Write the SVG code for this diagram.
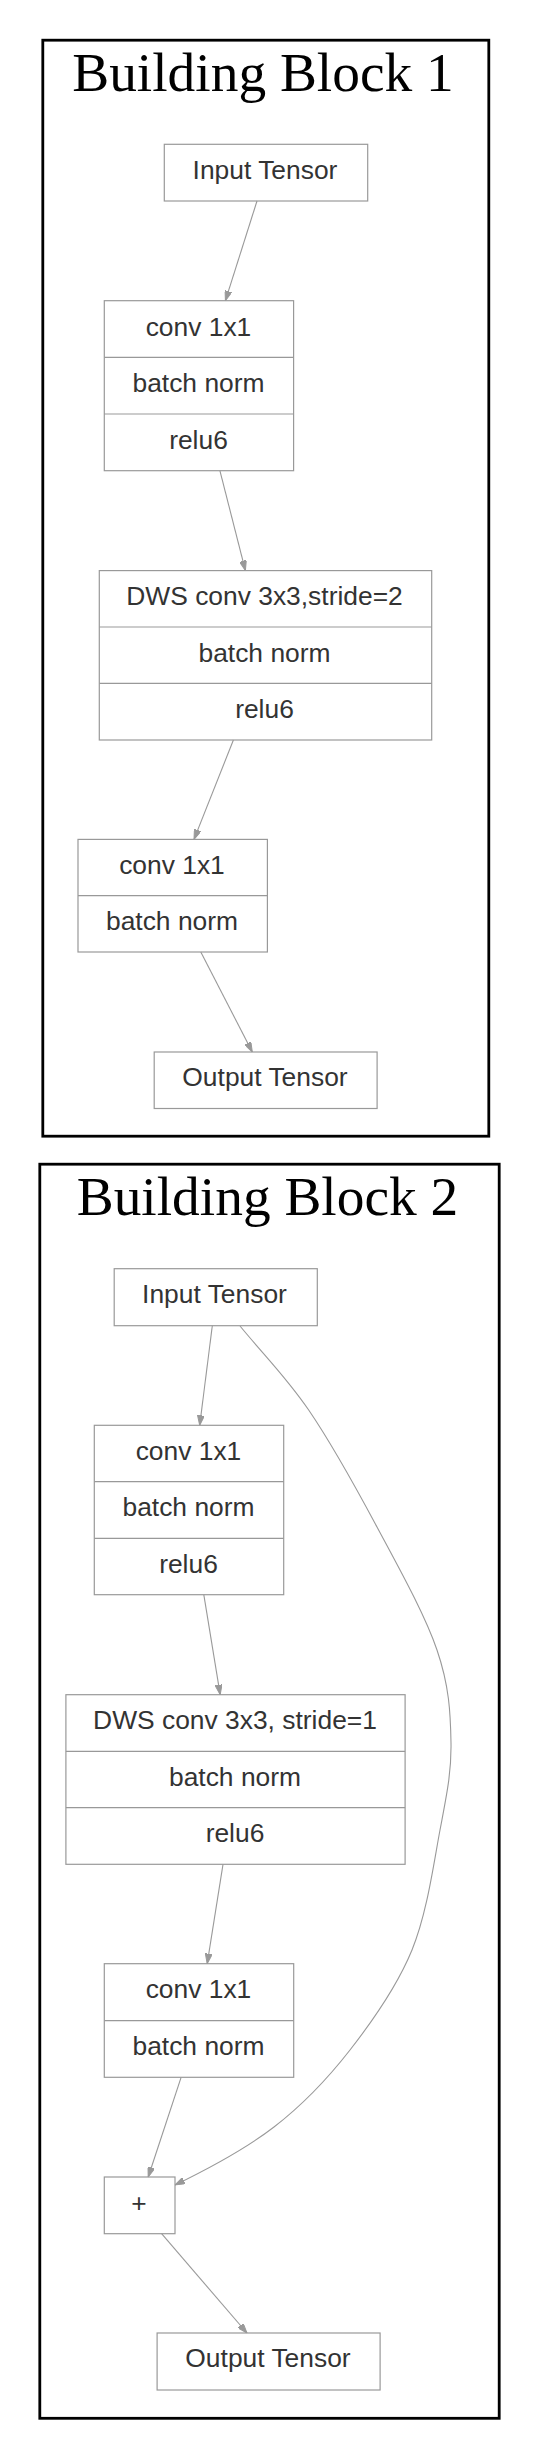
<svg xmlns="http://www.w3.org/2000/svg" width="539" height="2458" viewBox="0 0 539 2458">
<defs>
<marker id="arr" viewBox="0 0 10 7" markerWidth="10" markerHeight="7" refX="10" refY="3.5" markerUnits="userSpaceOnUse" orient="auto">
<path d="M0,0 L10,3.5 L0,7 z" fill="#999" stroke="#999" stroke-width="1"/>
</marker>
</defs>
<style>
.frame{fill:#fff;stroke:#000;stroke-width:2.8}
.title{font-family:"Liberation Serif","Times New Roman",serif;font-size:55.4px;fill:#000;text-anchor:middle}
.box{fill:#fff;stroke:#999;stroke-width:1.2}
.div{stroke:#999;stroke-width:1.2}
.lbl{font-family:"Liberation Sans",Arial,sans-serif;font-size:26.4px;fill:#333;text-anchor:middle}
.edge{fill:none;stroke:#999;stroke-width:1.1;marker-end:url(#arr)}
</style>
<rect width="539" height="2458" fill="#fff"/>
<g id="cluster1">
<rect class="frame" x="42.8" y="40.2" width="446" height="1096"/>
<text class="title" x="263" y="90.7">Building Block 1</text>
</g>
<g id="cluster2">
<rect class="frame" x="39.8" y="1164.2" width="459.4" height="1254.1"/>
<text class="title" x="267.5" y="1215">Building Block 2</text>
</g>
<g id="b1_input">
<rect class="box" x="164.3" y="144.3" width="203.4" height="56.7"/>
<text class="lbl" x="265" y="179">Input Tensor</text>
</g>
<g id="b1_conv1">
<rect class="box" x="104.3" y="300.7" width="189.3" height="170"/>
<line class="div" x1="104.3" y1="357.3" x2="293.6" y2="357.3"/>
<line class="div" x1="104.3" y1="414" x2="293.6" y2="414"/>
<text class="lbl" x="198.5" y="335.6">conv 1x1</text>
<text class="lbl" x="198.5" y="392.2">batch norm</text>
<text class="lbl" x="198.5" y="448.8">relu6</text>
</g>
<g id="b1_dws">
<rect class="box" x="99.3" y="570.6" width="332.4" height="169.4"/>
<line class="div" x1="99.3" y1="627" x2="431.7" y2="627"/>
<line class="div" x1="99.3" y1="683.4" x2="431.7" y2="683.4"/>
<text class="lbl" x="264.5" y="605">DWS conv 3x3,stride=2</text>
<text class="lbl" x="264.5" y="661.5">batch norm</text>
<text class="lbl" x="264.5" y="717.8">relu6</text>
</g>
<g id="b1_conv2">
<rect class="box" x="78" y="839.4" width="189.4" height="112.6"/>
<line class="div" x1="78" y1="895.7" x2="267.4" y2="895.7"/>
<text class="lbl" x="172" y="874.1">conv 1x1</text>
<text class="lbl" x="172" y="930.4">batch norm</text>
</g>
<g id="b1_output">
<rect class="box" x="154.2" y="1052" width="222.9" height="56.5"/>
<text class="lbl" x="265" y="1086.3">Output Tensor</text>
</g>
<g id="b2_input">
<rect class="box" x="114.2" y="1268.7" width="203.1" height="57"/>
<text class="lbl" x="214.5" y="1303.2">Input Tensor</text>
</g>
<g id="b2_conv1">
<rect class="box" x="94.3" y="1425.3" width="189.4" height="169.4"/>
<line class="div" x1="94.3" y1="1481.7" x2="283.7" y2="1481.7"/>
<line class="div" x1="94.3" y1="1538.3" x2="283.7" y2="1538.3"/>
<text class="lbl" x="188.5" y="1459.8">conv 1x1</text>
<text class="lbl" x="188.5" y="1516.2">batch norm</text>
<text class="lbl" x="188.5" y="1572.8">relu6</text>
</g>
<g id="b2_dws">
<rect class="box" x="65.9" y="1694.7" width="339.2" height="169.6"/>
<line class="div" x1="65.9" y1="1751.3" x2="405.1" y2="1751.3"/>
<line class="div" x1="65.9" y1="1807.7" x2="405.1" y2="1807.7"/>
<text class="lbl" x="235" y="1729">DWS conv 3x3, stride=1</text>
<text class="lbl" x="235" y="1785.6">batch norm</text>
<text class="lbl" x="235" y="1842.1">relu6</text>
</g>
<g id="b2_conv2">
<rect class="box" x="104.3" y="1963.7" width="189.4" height="113.6"/>
<line class="div" x1="104.3" y1="2020.7" x2="293.7" y2="2020.7"/>
<text class="lbl" x="198.5" y="1998.2">conv 1x1</text>
<text class="lbl" x="198.5" y="2055.2">batch norm</text>
</g>
<g id="b2_add">
<rect class="box" x="104.3" y="2177" width="70.7" height="56.7"/>
<text class="lbl" x="139" y="2211.5">+</text>
</g>
<g id="b2_output">
<rect class="box" x="157.1" y="2333" width="223" height="57"/>
<text class="lbl" x="268" y="2367.2">Output Tensor</text>
</g>
<g id="connectors">
<path class="edge" d="M257,201 L225.4,300.7"/>
<path class="edge" d="M219.9,470.7 L245.4,570.6"/>
<path class="edge" d="M233.4,740 L194,839.4"/>
<path class="edge" d="M200.8,952 L252.3,1052"/>
<path class="edge" d="M212.3,1325.7 L199.7,1425.3"/>
<path class="edge" d="M203.8,1594.7 L220.2,1694.7"/>
<path class="edge" d="M223,1864.3 L207.2,1963.7"/>
<path class="edge" d="M181.1,2077.3 L148.2,2177"/>
<path class="edge" d="M161.6,2233.7 L247,2333"/>
<path class="edge" d="M240,1326 C262.9,1354 285.9,1376.5 308.7,1410 C331.5,1443.5 355.6,1487 377,1527 C398.4,1567 424.7,1614 437,1650 C449.3,1686 450.5,1713 451,1743 C451.5,1773 446.5,1795.5 440,1830 C433.5,1864.5 427,1913.3 412,1950 C397,1986.7 373,2020.5 350,2050 C327,2079.5 303.2,2104.5 274,2127 C244.8,2149.5 210,2168 175,2185"/>
</g>
</svg>
